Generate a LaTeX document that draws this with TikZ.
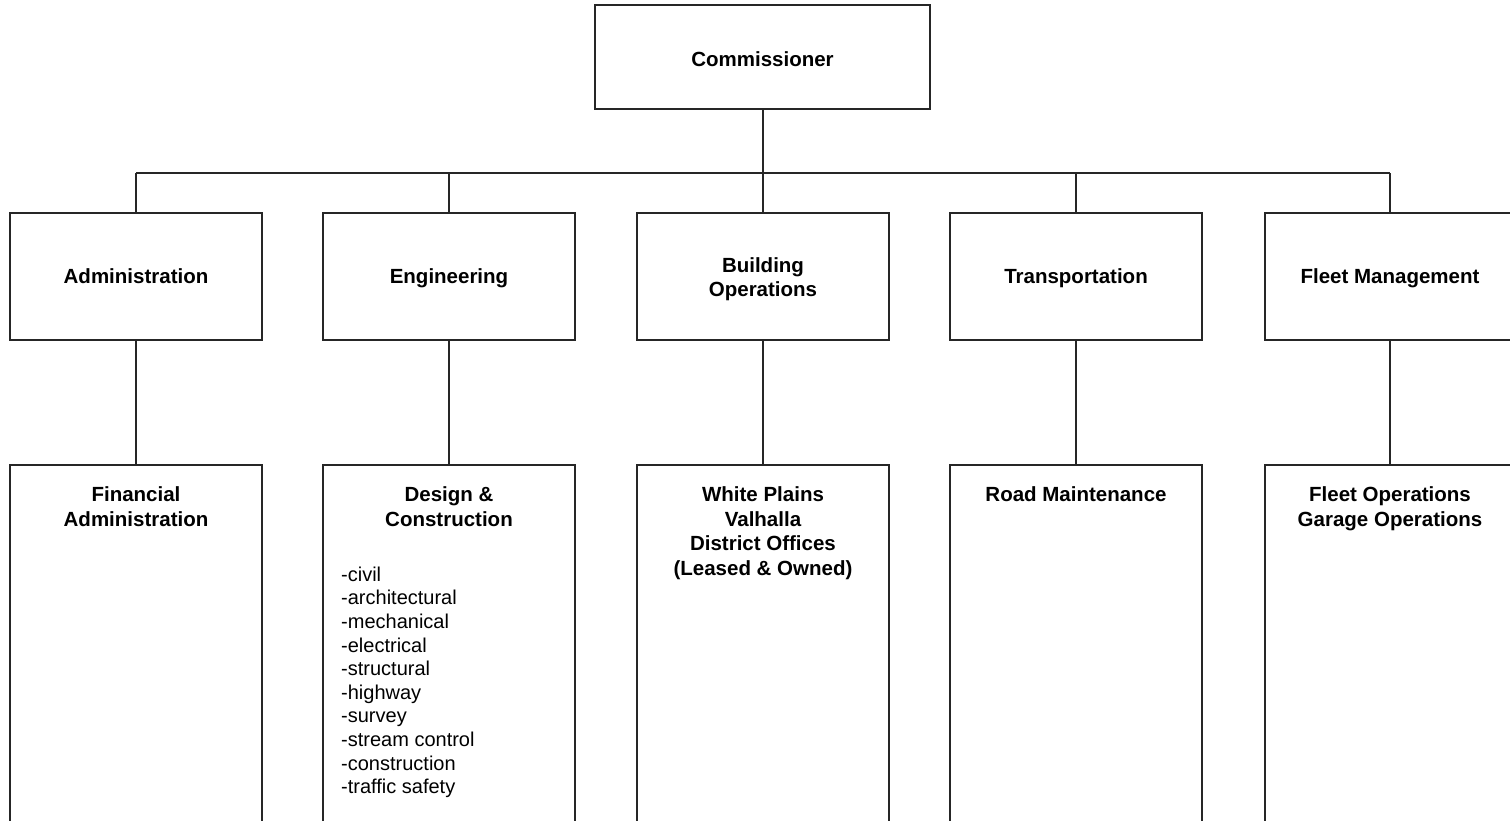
\documentclass[tikz,border=0pt]{standalone}
\usepackage{fontspec}
\setmainfont{Liberation Sans}
\begin{document}
\begin{tikzpicture}[x=1pt,y=-1pt,
  box/.style={draw=black!85,line width=2pt,fill=white},
  conn/.style={draw=black!85,line width=1.2pt},
  ttl/.style={font=\fontsize{20.5}{24.5}\selectfont\bfseries,align=center,inner sep=0pt},
  lst/.style={font=\fontsize{20}{23.6}\selectfont,align=left,inner sep=0pt,anchor=north west}]
\useasboundingbox (0,0) rectangle (1510,820);
\clip (0,0) rectangle (1510,820);
\fill[white] (0,0) rectangle (1510,820);
% top
\draw[box] (595,5) rectangle (930,109);
\node[ttl] (com) at (762.5,59) {Commissioner};
\coordinate (comb) at (763,109);
\coordinate (bus) at (763,173);
% level 2 and 3
\foreach \n/\cx/\lx/\rx in {a/136/10/262, e/449/323/575, b/763/637/889, t/1076/950/1202, f/1390/1265/1516}{
  \draw[box] (\lx,213) rectangle (\rx,340);
  \draw[box] (\lx,465) rectangle (\rx,840);
  \coordinate (\n top) at (\cx,213);
  \coordinate (\n bot) at (\cx,340);
  \coordinate (\n sub) at (\cx,465);
  \coordinate (\n bus) at (\cx,173);
}
\draw[conn] (comb) -- (bus);
\draw[conn] (abus) -- (fbus);
\foreach \n in {a,e,b,t,f}{
  \draw[conn] (\n bus) -- (\n top);
  \draw[conn] (\n bot) -- (\n sub);
}
\node[ttl,anchor=base] (adm) at (136,283.5) {Administration};
\node[ttl,anchor=base] (eng) at (449,283.5) {Engineering};
\node[ttl] (bld) at (763,279) {Building\\Operations};
\node[ttl,anchor=base] (trn) at (1076,283.5) {Transportation};
\node[ttl,anchor=base] (flt) at (1390,283.5) {Fleet Management};
\node[ttl,anchor=north] (fin) at (136,486.5) {Financial\\Administration};
\node[ttl,anchor=north] (des) at (449,486.5) {Design \&\\Construction};
\node[ttl,anchor=north] (wp) at (763,486.5) {White Plains\\Valhalla\\District Offices\\(Leased \& Owned)};
\node[ttl,anchor=north] (rm) at (1076,486.5) {Road Maintenance};
\node[ttl,anchor=north] (fo) at (1390,486.5) {Fleet Operations\\Garage Operations};
\node[lst] (list) at (341,566.5) {-civil\\-architectural\\-mechanical\\-electrical\\-structural\\-highway\\-survey\\-stream control\\-construction\\-traffic safety};
\end{tikzpicture}
\end{document}
